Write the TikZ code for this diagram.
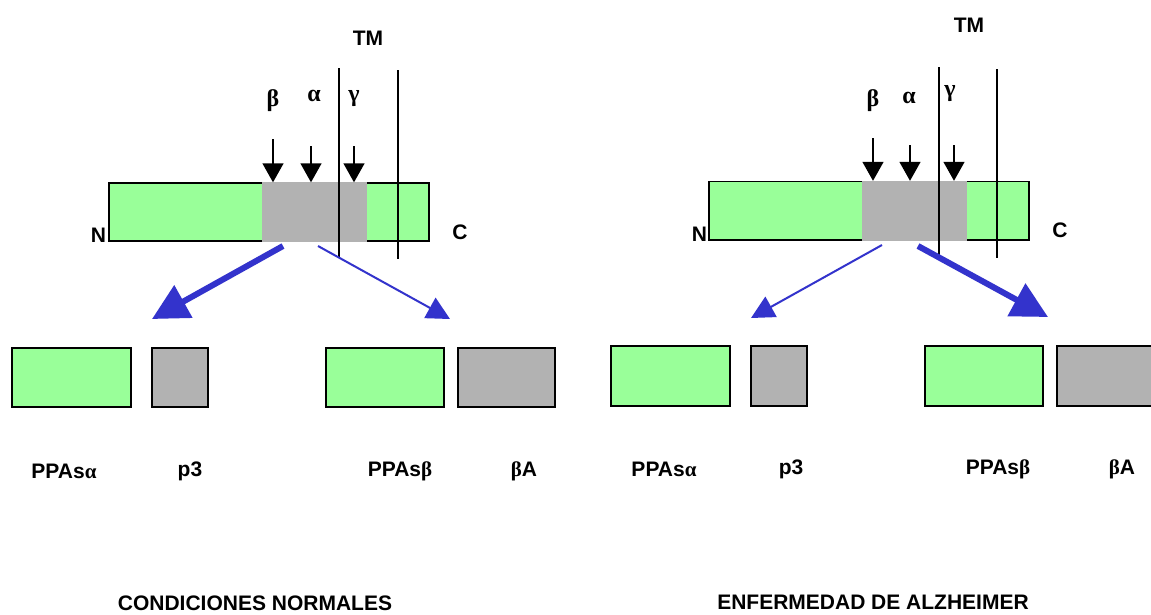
\documentclass[tikz,border=0pt]{standalone}
\usepackage{fontspec}
\setmainfont{Liberation Sans}
\newfontfamily\grk{Liberation Serif}
\usetikzlibrary{arrows.meta}
\definecolor{appgreen}{HTML}{99FF99}
\definecolor{abgray}{HTML}{B2B2B2}
\definecolor{cutblue}{HTML}{3333CC}
\tikzset{
  txt/.style={font=\fontsize{21}{24}\selectfont\bfseries, inner sep=0pt},
  grklbl/.style={font=\fontsize{24}{26}\selectfont\grk\bfseries, inner sep=0pt, anchor=base},
  barbox/.style={draw=black, line width=1.4pt, fill=appgreen, inner sep=0pt, outer sep=0pt, anchor=north west},
  regionbox/.style={fill=abgray, inner sep=0pt, outer sep=0pt, anchor=north west},
  greenpiece/.style={draw=black, line width=1.8pt, fill=appgreen, inner sep=0pt, outer sep=0pt, anchor=north west},
  graypiece/.style={draw=black, line width=1.8pt, fill=abgray, inner sep=0pt, outer sep=0pt, anchor=north west},
  tmline/.style={line width=1.4pt},
  cutarrow/.style={line width=1.4pt, -{Triangle[width=21pt,length=19pt]}},
  majorpath/.style={cutblue, line width=6pt, -{Triangle[width=36pt,length=36pt]}},
  minorpath/.style={cutblue, line width=2pt, -{Triangle[width=23pt,length=23pt]}},
}
\begin{document}
\begin{tikzpicture}[x=1pt, y=-1pt]
\clip (0,0) rectangle (1151,614);
\fill[white] (0,0) rectangle (1151,614);

% ---------------- normal conditions ----------------
\node[barbox, minimum width=320pt, minimum height=58pt] (barL) at (109,183) {};
\node[regionbox, minimum width=105pt, minimum height=60pt] (grayL) at (262,182.3) {};
\draw[tmline] (339,68) -- (339,257);
\draw[tmline] (398,70) -- (398,259);
\node[txt] (tmL) at (368,38) {TM};
\node[grklbl] (betaL) at (273,106) {β};
\node[grklbl] (alphaL) at (314,101) {α};
\node[grklbl] (gammaL) at (354,101) {γ};
\coordinate (bsL) at (273,139);
\coordinate (asL) at (311,146);
\coordinate (gsL) at (354,146);
\draw[cutarrow] (bsL) -- (bsL |- grayL.north);
\draw[cutarrow] (asL) -- (asL |- grayL.north);
\draw[cutarrow] (gsL) -- (gsL |- grayL.north);
\node[txt] (nL) at (98.5,235) {N};
\node[txt] (cL) at (460,232) {C};

\node[greenpiece, minimum width=119pt, minimum height=59pt] (sAlphaL) at (12,348) {};
\node[graypiece, minimum width=56pt, minimum height=59pt] (p3L) at (152,348) {};
\node[greenpiece, minimum width=118pt, minimum height=59pt] (sBetaL) at (326,348) {};
\node[graypiece, minimum width=97pt, minimum height=59pt] (abL) at (458,348) {};

\coordinate (majStartL) at (283,246);
\coordinate (majEndL) at (152,319);
\coordinate (minStartL) at (318,246);
\coordinate (minEndL) at (450,319);
\draw[majorpath] (majStartL) -- (majEndL);
\draw[minorpath] (minStartL) -- (minEndL);

\node[txt] (lsAlphaL) at (64,471) {PPAs{\grk α}};
\node[txt] (lp3L) at (190,471) {p3};
\node[txt] (lsBetaL) at (400,471) {PPAs{\grk β}};
\node[txt] (labL) at (524,471) {{\grk β}A};
\node[txt] (titleL) at (255,603.5) {CONDICIONES NORMALES};

% ---------------- Alzheimer's disease ----------------
\node[barbox, minimum width=320pt, minimum height=58.5pt] (barR) at (709,181.5) {};
\node[regionbox, minimum width=105pt, minimum height=60pt] (grayR) at (862,180.8) {};
\draw[tmline] (939,67) -- (939,256);
\draw[tmline] (997,69) -- (997,258);
\node[txt] (tmR) at (969,25) {TM};
\node[grklbl] (betaR) at (873,106) {β};
\node[grklbl] (alphaR) at (909,103) {α};
\node[grklbl] (gammaR) at (950,96) {γ};
\coordinate (bsR) at (873,138);
\coordinate (asR) at (910,145);
\coordinate (gsR) at (954,145);
\draw[cutarrow] (bsR) -- (bsR |- grayR.north);
\draw[cutarrow] (asR) -- (asR |- grayR.north);
\draw[cutarrow] (gsR) -- (gsR |- grayR.north);
\node[txt] (nR) at (699.5,234.5) {N};
\node[txt] (cR) at (1060,230) {C};

\node[greenpiece, minimum width=119pt, minimum height=60pt] (sAlphaR) at (611,346) {};
\node[graypiece, minimum width=56pt, minimum height=60pt] (p3R) at (751,346) {};
\node[greenpiece, minimum width=118pt, minimum height=60pt] (sBetaR) at (925,346) {};
\node[graypiece, minimum width=110pt, minimum height=60pt] (abR) at (1057,346) {};

\coordinate (minStartR) at (882,245);
\coordinate (minEndR) at (751,318);
\coordinate (majStartR) at (918,246);
\coordinate (majEndR) at (1048,317);
\draw[minorpath] (minStartR) -- (minEndR);
\draw[majorpath] (majStartR) -- (majEndR);

\node[txt] (lsAlphaR) at (664,469) {PPAs{\grk α}};
\node[txt] (lp3R) at (791,469) {p3};
\node[txt] (lsBetaR) at (998,469) {PPAs{\grk β}};
\node[txt] (labR) at (1122,469) {{\grk β}A};
\node[txt] (titleR) at (873,602.5) {ENFERMEDAD DE ALZHEIMER};
\end{tikzpicture}
\end{document}
